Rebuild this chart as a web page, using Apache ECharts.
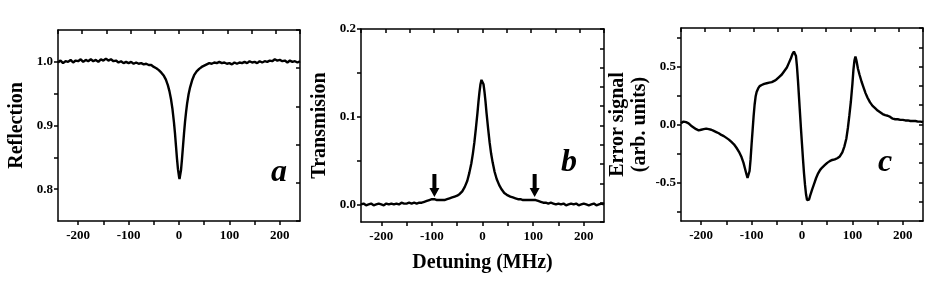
<!DOCTYPE html>
<html>
<head>
<meta charset="utf-8">
<script src="https://cdn.jsdelivr.net/npm/echarts@6/dist/echarts.min.js"></script>
<style>
html,body{margin:0;padding:0;background:#fff;}
#chart{width:941px;height:283px;}
</style>
</head>
<body>
<div id="chart"></div>
<script>
// ---------- DATA ----------
const xTickValues = [-200, -150, -100, -50, 0, 50, 100, 150, 200];
const xLabelValues = [-200, -100, 0, 100, 200];

// Panel a: Reflection
const reflX = [-240,-235,-230,-225,-220,-215,-210,-205,-200,-195,-190,-185,-180,-175,-170,-165,-160,-155,-150,-145,-140,-135,-130,-125,-120,-115,-110,-105,-100,-95,-90,-85,-80,-75,-70,-65,-60,-55,-50,-45,-40,-35,-30,-26,-22,-19,-16,-13,-10,-8,-6,-4,-2,0,1,2,4,6,8,10,12,14,16,19,22,26,30,35,40,45,50,55,60,65,70,75,80,85,90,95,100,105,110,115,120,125,130,135,140,145,150,155,160,165,170,175,180,185,190,195,200,205,210,215,220,225,230,235,240];
const reflY = [0.999,1.002,0.998,1.001,1.000,1.003,0.999,1.002,1.001,1.004,1.000,1.003,1.001,1.004,1.001,1.003,1.000,1.004,1.002,1.005,1.002,1.004,1.001,1.002,0.999,1.001,0.998,1.000,0.998,1.000,0.997,0.999,0.997,0.998,0.996,0.997,0.995,0.995,0.992,0.990,0.987,0.983,0.978,0.972,0.963,0.954,0.942,0.926,0.905,0.888,0.868,0.848,0.831,0.820,0.816,0.818,0.830,0.848,0.868,0.888,0.906,0.921,0.934,0.949,0.960,0.971,0.979,0.985,0.989,0.992,0.994,0.996,0.998,0.997,0.999,0.998,1.000,0.998,0.999,0.997,0.998,0.996,0.999,0.997,0.999,0.998,1.000,0.998,1.001,0.999,1.000,0.998,1.001,0.999,1.001,1.000,1.002,1.001,1.004,1.002,1.003,1.001,1.002,0.999,1.002,1.000,1.001,0.999,1.001];

// Panel b: Transmision
const transX = [-240,-235,-230,-225,-220,-215,-210,-205,-200,-195,-190,-185,-180,-175,-170,-165,-160,-155,-150,-145,-140,-135,-130,-125,-120,-115,-110,-105,-100,-95,-90,-85,-80,-75,-70,-65,-60,-55,-50,-45,-40,-35,-30,-26,-22,-19,-16,-13,-10,-8,-6,-4,-2,-1,0,2,4,6,8,11,14,17,20,24,28,33,38,43,48,55,60,65,70,75,80,85,90,95,100,105,110,115,120,125,130,135,140,145,150,155,160,165,170,175,180,185,190,195,200,205,210,215,220,225,230,235,240];
const transY = [0.000,0.001,-0.001,0.000,0.001,-0.001,0.000,0.001,0.000,-0.001,0.001,0.000,0.001,0.000,0.001,0.000,0.002,0.001,0.001,0.002,0.001,0.002,0.001,0.002,0.002,0.003,0.004,0.005,0.006,0.006,0.005,0.005,0.005,0.005,0.006,0.007,0.008,0.009,0.010,0.012,0.015,0.020,0.027,0.036,0.047,0.058,0.071,0.087,0.104,0.117,0.128,0.137,0.142,0.143,0.142,0.137,0.128,0.117,0.104,0.087,0.071,0.058,0.048,0.037,0.029,0.022,0.017,0.013,0.011,0.009,0.008,0.007,0.006,0.006,0.005,0.005,0.005,0.005,0.005,0.005,0.004,0.003,0.002,0.002,0.001,0.002,0.001,0.000,0.001,0.000,0.001,-0.001,0.000,0.001,0.000,0.001,-0.001,0.000,0.001,0.000,-0.001,0.000,0.001,-0.001,0.000,0.001,0.000];
const arrowX = [-95, 103];
const arrowY = 0.0215;

// Panel c: Error signal
const errX = [-240,-235,-230,-225,-220,-215,-210,-205,-200,-195,-190,-185,-180,-175,-170,-165,-160,-155,-150,-145,-140,-135,-130,-125,-120,-116,-113,-110,-108,-106,-104,-102,-100,-98,-96,-94,-92,-90,-87,-84,-80,-75,-70,-65,-60,-55,-50,-45,-40,-35,-30,-26,-22,-19,-16,-14,-12,-10,-8,-6,-4,-2,0,2,4,6,8,10,12,14,17,20,24,28,32,36,40,45,50,55,60,65,70,75,80,84,88,91,94,97,100,102,104,106,108,111,114,118,122,126,130,135,140,145,150,155,160,165,170,175,180,185,190,195,200,205,210,215,220,225,230,235,240];
const errY = [0.01,0.025,0.02,0.01,-0.01,-0.025,-0.04,-0.05,-0.045,-0.04,-0.035,-0.04,-0.045,-0.055,-0.065,-0.075,-0.09,-0.10,-0.115,-0.13,-0.15,-0.17,-0.20,-0.235,-0.28,-0.33,-0.38,-0.43,-0.46,-0.45,-0.40,-0.30,-0.17,-0.05,0.07,0.17,0.24,0.28,0.31,0.33,0.34,0.35,0.355,0.36,0.365,0.375,0.39,0.41,0.43,0.46,0.49,0.53,0.57,0.605,0.628,0.62,0.59,0.50,0.38,0.24,0.10,-0.04,-0.17,-0.30,-0.42,-0.52,-0.60,-0.65,-0.665,-0.645,-0.60,-0.56,-0.51,-0.46,-0.42,-0.39,-0.37,-0.35,-0.33,-0.315,-0.305,-0.30,-0.29,-0.275,-0.24,-0.19,-0.12,-0.03,0.08,0.20,0.35,0.47,0.55,0.585,0.55,0.48,0.43,0.37,0.32,0.27,0.23,0.19,0.16,0.14,0.12,0.105,0.09,0.08,0.075,0.065,0.05,0.045,0.045,0.04,0.04,0.035,0.035,0.03,0.03,0.03,0.025,0.025,0.02];

const yNames = ['Reflection', 'Transmision', 'Error signal\n(arb. units)'];
const yRanges = [[0.75, 1.05], [-0.02, 0.2], [-0.83, 0.83]];
const yTickValues = [[0.8,0.85,0.9,0.95,1.0], [0,0.05,0.1,0.15,0.2], [-0.75,-0.5,-0.25,0,0.25,0.5,0.75]];
const yLabelValues = [[0.8,0.9,1.0], [0,0.1,0.2], [-0.5,0,0.5]];
const panelLetters = ['a', 'b', 'c'];
const xName = 'Detuning (MHz)';

// ---------- CHART ----------
const FONT = '"Liberation Serif", "Times New Roman", serif';
const grids = [
  {left: 58, top: 30, width: 242, height: 191},
  {left: 361, top: 29, width: 243, height: 193},
  {left: 681, top: 28, width: 242, height: 193}
];
const rightDivs = [5, 10, 10];
const zip = (xs, ys) => xs.map((x, i) => [x, ys[i]]);
const seriesData = [zip(reflX, reflY), zip(transX, transY), zip(errX, errY)];

const lineC = '#000';
const xAxes = [], yAxes = [], series = [];
grids.forEach((g, i) => {
  xAxes.push({
    type: 'value', gridIndex: i, position: 'bottom', min: -240, max: 240,
    axisLine: {show: true, onZero: false, lineStyle: {color: lineC, width: 1.5}},
    axisTick: {show: true, inside: false, length: 4, customValues: xTickValues, lineStyle: {color: lineC, width: 1.5}},
    axisLabel: {customValues: xLabelValues, margin: 8, color: '#000', fontFamily: FONT, fontWeight: 'bold', fontSize: 13},
    splitLine: {show: false},
    name: i === 1 ? xName : '', nameLocation: 'middle', nameGap: 31,
    nameTextStyle: {color: '#000', fontFamily: FONT, fontWeight: 'bold', fontSize: 20, verticalAlign: 'top'}
  });
  xAxes.push({
    type: 'value', gridIndex: i, position: 'top', min: 0, max: 10, interval: 1,
    axisLine: {show: true, onZero: false, lineStyle: {color: lineC, width: 1.5}},
    axisTick: {show: true, inside: true, length: 4, lineStyle: {color: lineC, width: 1.5}},
    axisLabel: {show: false}, splitLine: {show: false}
  });
  yAxes.push({
    type: 'value', gridIndex: i, position: 'left', min: yRanges[i][0], max: yRanges[i][1],
    axisLine: {show: true, onZero: false, lineStyle: {color: lineC, width: 1.5}},
    axisTick: {show: true, inside: false, length: 4, customValues: yTickValues[i], lineStyle: {color: lineC, width: 1.5}},
    axisLabel: {customValues: yLabelValues[i], margin: 5, color: '#000', fontFamily: FONT, fontWeight: 'bold', fontSize: 13,
      formatter: v => v.toFixed(1)},
    splitLine: {show: false},
    name: yNames[i], nameLocation: 'middle', nameRotate: 90, nameGap: 30,
    nameTextStyle: {color: '#000', fontFamily: FONT, fontWeight: 'bold', fontSize: 20, lineHeight: 22}
  });
  yAxes.push({
    type: 'value', gridIndex: i, position: 'right', min: 0, max: rightDivs[i], interval: 1, inverse: true,
    axisLine: {show: true, onZero: false, lineStyle: {color: lineC, width: 1.5}},
    axisTick: {show: true, inside: true, length: 4, lineStyle: {color: lineC, width: 1.5}},
    axisLabel: {show: false}, splitLine: {show: false}
  });
  const s = {
    type: 'line', xAxisIndex: 2 * i, yAxisIndex: 2 * i, data: seriesData[i],
    showSymbol: false, symbol: 'none', smooth: false,
    lineStyle: {color: '#000', width: 2.4}, itemStyle: {color: '#000'}, animation: false, silent: true
  };
  if (i === 1) {
    s.markPoint = {
      symbol: 'path://M3,0 L7,0 L7,14 L10,14 L5,23 L0,14 L3,14 Z',
      symbolSize: [10, 23], symbolKeepAspect: false,
      itemStyle: {color: '#000'}, label: {show: false}, silent: true, animation: false,
      data: arrowX.map(x => ({coord: [x, arrowY]}))
    };
  }
  series.push(s);
});

const letterPos = [[279, 173], [569, 163], [885, 163]];
const graphic = panelLetters.map((t, i) => ({
  type: 'text', x: letterPos[i][0], y: letterPos[i][1], silent: true,
  style: {text: t, fill: '#000', font: 'italic bold 32px ' + FONT, textAlign: 'center', textVerticalAlign: 'middle'}
}));

const chart = echarts.init(document.getElementById('chart'), null, {renderer: 'canvas'});
chart.setOption({
  backgroundColor: '#fff',
  animation: false,
  grid: grids,
  xAxis: xAxes,
  yAxis: yAxes,
  series: series,
  graphic: graphic
});
</script>
</body>
</html>
